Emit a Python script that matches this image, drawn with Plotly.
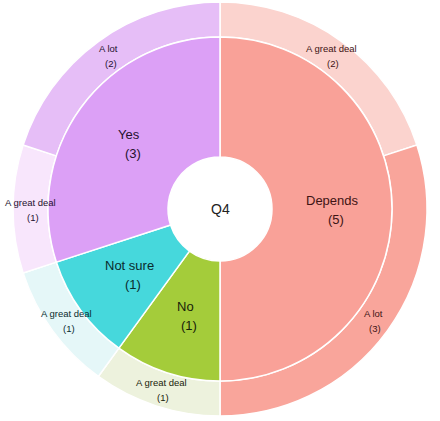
import numpy as np
import plotly.graph_objects as go

# datos: respuestas a Q4
cat_labels = ['Depends', 'No', 'Not sure', 'Yes']
cat_values = [5, 1, 1, 3]

sub_parents = ['Depends', 'Depends', 'No', 'Not sure', 'Yes', 'Yes']
sub_labels = ['A great deal', 'A lot', 'A great deal', 'A great deal', 'A great deal', 'A lot']
sub_values = [2, 3, 1, 1, 1, 2]

# colores
cat_colors = {'Depends': '#F9A198', 'No': '#A4CC3A', 'Not sure': '#46D8DC', 'Yes': '#DCA0F6'}
cat_text = {'Depends': '#3E1414', 'No': '#18220A', 'Not sure': '#0A2C2E', 'Yes': '#25122E'}
sub_colors = ['#FBD3CE', '#F9A59B', '#EDF2DD', '#E5F7F8', '#F8E6FC', '#E6BEF7']

# geometria (px)
W, H = 440, 421
M_T, M_B = 2, 5
R_OUT, R_MID, R_IN = 207, 172, 52
PW, PH = W, H - M_T - M_B


def domain(r):
    dx = r / PW
    dy = r / PH
    return dict(x=[0.5 - dx, 0.5 + dx], y=[0.5 - dy, 0.5 + dy])


def label_pos(values, r):
    # punto medio de cada sector (sentido horario desde las 12)
    v = np.array(values, dtype=float)
    ends = np.cumsum(v) / v.sum()
    mids = ends - v / v.sum() / 2
    th = 2 * np.pi * mids
    return 0.5 + r * np.sin(th) / PW, 0.5 + r * np.cos(th) / PH


fig = go.Figure()

fig.add_trace(go.Pie(
    labels=[f'{p} - {l}' for p, l in zip(sub_parents, sub_labels)],
    values=sub_values,
    sort=False, direction='clockwise', rotation=0,
    hole=R_MID / R_OUT,
    domain=domain(R_OUT),
    marker=dict(colors=sub_colors, line=dict(color='white', width=1.5)),
    textinfo='none', showlegend=False,
))

fig.add_trace(go.Pie(
    labels=cat_labels,
    values=cat_values,
    sort=False, direction='clockwise', rotation=0,
    hole=R_IN / R_MID,
    domain=domain(R_MID),
    marker=dict(colors=[cat_colors[c] for c in cat_labels], line=dict(color='white', width=1.5)),
    textinfo='none', showlegend=False,
))

annots = []
xs, ys = label_pos(cat_values, (R_IN + R_MID) / 2)
for c, v, x, y in zip(cat_labels, cat_values, xs, ys):
    f = dict(family='Arial', size=13, color=cat_text[c])
    annots.append(dict(x=x, y=y, text=c, yshift=9, font=f))
    annots.append(dict(x=x, y=y, text=f'({v})', yshift=-10, xshift=4, font=f))

xs, ys = label_pos(sub_values, (R_MID + R_OUT) / 2)
for p, l, v, x, y in zip(sub_parents, sub_labels, sub_values, xs, ys):
    f = dict(family='Arial', size=9.5, color=cat_text[p])
    annots.append(dict(x=x, y=y, text=l, yshift=7, font=f))
    annots.append(dict(x=x, y=y, text=f'({v})', yshift=-8, xshift=2, font=f))

annots.append(dict(x=0.5, y=0.5, text='Q4', font=dict(family='Arial', size=14, color='#222222')))

for a in annots:
    a.update(xref='paper', yref='paper', showarrow=False, xanchor='center', yanchor='middle')

fig.update_layout(
    width=W, height=H,
    margin=dict(l=0, r=0, t=M_T, b=M_B),
    paper_bgcolor='white', plot_bgcolor='white',
    annotations=annots,
)

# sin margen del body para que la figura ocupe toda la ventana
fig.write_html('out.html', config={'displayModeBar': False},
               post_script="document.body.style.margin='0';")
